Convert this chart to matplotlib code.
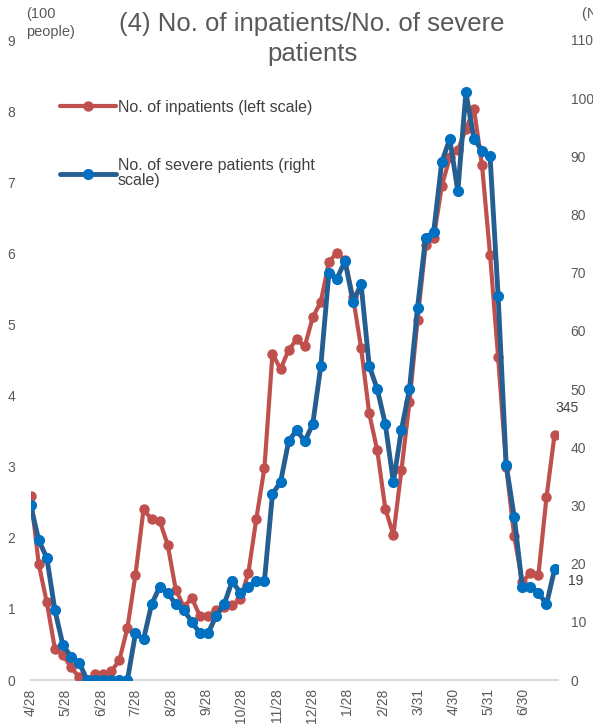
import matplotlib
matplotlib.use("Agg")
import matplotlib.pyplot as plt
import numpy as np
import pandas as pd

plt.rcParams['font.family'] = ['Liberation Sans', 'DejaVu Sans']

# ---- data ----
start_date = '2020-04-28'
inpatients = [2.59, 1.63, 1.09, 0.44, 0.35, 0.18, 0.04, 0.00, 0.08, 0.08,
              0.12, 0.28, 0.73, 1.48, 2.40, 2.26, 2.24, 1.90, 1.27, 1.03,
              1.15, 0.90, 0.90, 0.98, 1.03, 1.05, 1.14, 1.50, 2.27, 2.98,
              4.59, 4.37, 4.64, 4.79, 4.69, 5.10, 5.32, 5.88, 6.01, 5.90,
              5.38, 4.67, 3.75, 3.23, 2.41, 2.04, 2.95, 3.91, 5.06, 6.12,
              6.21, 6.94, 7.35, 7.45, 7.75, 8.03, 7.24, 5.98, 4.54, 3.00,
              2.02, 1.38, 1.50, 1.48, 2.57, 3.45]          # hundreds of people
severe = [30, 24, 21, 12, 6, 4, 3, 0, 0, 0,
          0, 0, 0, 8, 7, 13, 16, 15, 13, 12,
          10, 8, 8, 11, 13, 17, 15, 16, 17, 17,
          32, 34, 41, 43, 41, 44, 54, 70, 69, 72,
          65, 68, 54, 50, 44, 34, 43, 50, 64, 76,
          77, 89, 93, 84, 101, 93, 91, 90, 66, 37,
          28, 16, 16, 15, 13, 19]                           # people
tick_dates = ['2020-04-28', '2020-05-28', '2020-06-28', '2020-07-28', '2020-08-28',
              '2020-09-28', '2020-10-28', '2020-11-28', '2020-12-28', '2021-01-28',
              '2021-02-28', '2021-03-31', '2021-04-30', '2021-05-31', '2021-06-30']
tick_labels = ['4/28', '5/28', '6/28', '7/28', '8/28', '9/28', '10/28', '11/28',
               '12/28', '1/28', '2/28', '3/31', '4/30', '5/31', '6/30']
left_ticks = list(range(0, 10))
right_ticks = list(range(0, 111, 10))
label_red = 'No. of inpatients (left scale)'
label_blue = 'No. of severe patients (right\nscale)'
title = '(4) No. of inpatients/No. of severe\npatients'
left_unit = '(100\npeople)'
right_unit = '(No. of people)'

dates = pd.date_range(start_date, periods=len(inpatients), freq='7D')

# ---- figure ----
W, H = 593, 728
fig = plt.figure(figsize=(W / 100, H / 100), dpi=100)
x0, x1 = 30.7, 558.0
y0, y1 = 680.0, 40.0
ax = fig.add_axes([x0 / W, (H - y0) / H, (x1 - x0) / W, (y0 - y1) / H])
ax2 = ax.twinx()

red = '#C0504D'
blue_line = '#255E91'
blue_mk = '#0070C0'
grey = '#595959'

l1, = ax.plot(dates, inpatients, color=red, lw=3.0, marker='o', ms=6.5,
              mfc=red, mec=red, label=label_red, solid_capstyle='round',
              solid_joinstyle='round', zorder=3)
l2, = ax2.plot(dates, severe, color=blue_line, lw=3.5, marker='o', ms=7.0,
               mfc=blue_mk, mec=blue_mk, label=label_blue, solid_capstyle='round',
               solid_joinstyle='round', zorder=3)

ax.set_xlim(pd.Timestamp(start_date), pd.Timestamp('2021-07-30'))
ax.set_ylim(0, 9)
ax2.set_ylim(0, 110)
ax.set_yticks(left_ticks)
ax2.set_yticks(right_ticks)
ax.set_xticks(pd.to_datetime(tick_dates))
ax.set_xticklabels(tick_labels, rotation=90, va='top', ha='center')

for a in (ax, ax2):
    for s in a.spines.values():
        s.set_visible(False)
ax.spines['bottom'].set_visible(True)
ax.spines['bottom'].set_color('#D9D9D9')
ax.spines['bottom'].set_linewidth(1.5)
ax.spines['bottom'].set_zorder(1)

ax.tick_params(axis='x', length=0, pad=6, labelsize=10, labelcolor=grey)
ax.tick_params(axis='y', length=0, pad=11, labelsize=10, labelcolor=grey)
ax2.tick_params(axis='y', length=0, pad=9, labelsize=10, labelcolor=grey)

# unit labels
fig.text(26 / W, 1 - 7 / H, left_unit, ha='left', va='top', fontsize=10.5,
         color=grey, linespacing=1.4)
fig.text(582 / W, 1 - 7 / H, right_unit, ha='left', va='top', fontsize=10.5,
         color=grey)

# title
fig.text(312 / W, 1 - 39 / H, title, ha='center', va='center', fontsize=18.5,
         color=grey, linespacing=1.3)

# data labels for last points
ax.annotate(f'{round(inpatients[-1] * 100)}', (dates[-1], inpatients[-1]),
            xytext=(9, 19), textcoords='offset points', ha='center', va='center',
            fontsize=10, color='#404040')
ax2.annotate(f'{severe[-1]}', (dates[-1], severe[-1]),
             xytext=(15, -8), textcoords='offset points', ha='center', va='center',
             fontsize=10, color='#404040')

leg = ax2.legend(handles=[l1, l2], loc='upper left',
                 bbox_to_anchor=(60 / W, 1 - 100 / H), bbox_transform=fig.transFigure,
                 frameon=False, fontsize=11.5, handlelength=3.5, handletextpad=0.1,
                 labelspacing=2.7, borderpad=0, borderaxespad=0, numpoints=1,
                 labelcolor='#404040')
for t in leg.get_texts():
    t.set_linespacing(1.0)

fig.savefig('out.png', dpi=100)
